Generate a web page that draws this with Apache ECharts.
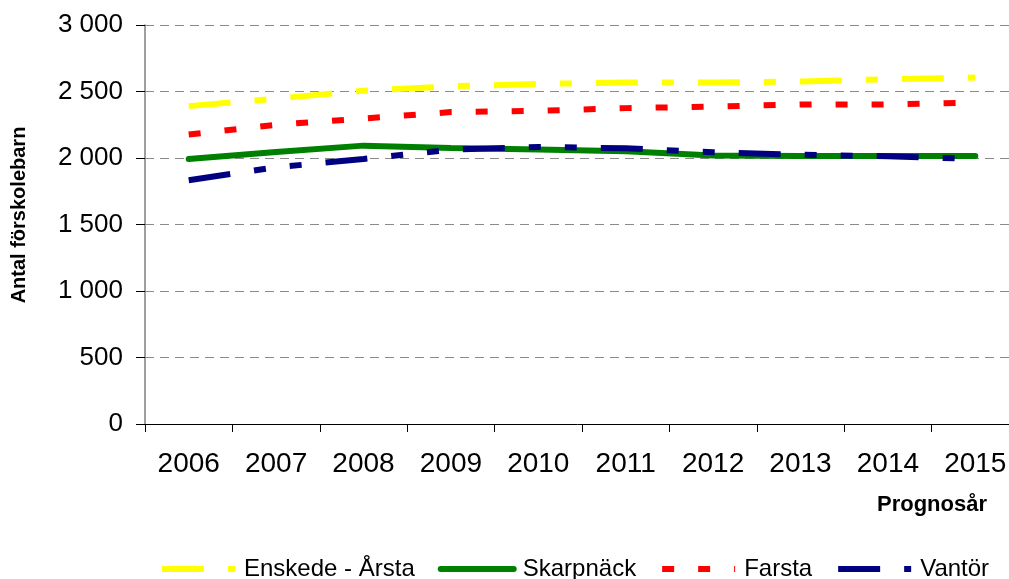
<!DOCTYPE html>
<html>

<head>
    <meta charset="utf-8">
    <title>Prognos förskolebarn</title>
    <style>
        html, body {
            margin: 0;
            padding: 0;
            background: #fff;
        }

        #main {
            width: 1009px;
            height: 579px;
        }
    </style>
</head>

<body>
    <div id="main"></div>

    <script src="https://cdn.jsdelivr.net/npm/echarts@6/dist/echarts.min.js"></script>
    <script>
        // data
        var years = ['2006', '2007', '2008', '2009', '2010', '2011', '2012', '2013', '2014', '2015'];
        var enskede = [2390, 2446, 2506, 2539, 2557, 2567, 2567, 2575, 2592, 2605];
        var skarpnack = [1992, 2045, 2093, 2076, 2063, 2050, 2018, 2015, 2015, 2015];
        var farsta = [2176, 2250, 2297, 2345, 2355, 2375, 2386, 2403, 2403, 2416];
        var vantor = [1833, 1930, 1993, 2063, 2083, 2073, 2043, 2025, 2013, 1993];
        var yTicks = [0, 500, 1000, 1500, 2000, 2500, 3000];

        var font = '"Liberation Sans", Arial, sans-serif';

        function fmt(v) {
            // swedish thousands separator
            return String(v).replace(/\B(?=(\d{3})+(?!\d))/g, ' ');
        }

        var chartDom = document.getElementById('main');
        var myChart = echarts.init(chartDom);
        var option;

        option = {
            animation: false,
            textStyle: { fontFamily: font },
            grid: {
                left: 145,
                top: 25,
                width: 874,
                bottom: 155,
                containLabel: false,
                outerBoundsMode: 'none'
            },
            legend: {
                top: 557,
                left: 159,
                padding: 0,
                itemWidth: 73,
                itemHeight: 22,
                itemGap: 23,
                itemStyle: { opacity: 0 },
                lineStyle: { width: 6 },
                textStyle: { fontSize: 24, color: '#000', fontFamily: font, padding: [2, 0, 0, 4] },
                data: ['Enskede - Årsta', 'Skarpnäck', 'Farsta', 'Vantör']
            },
            graphic: [
                {
                    type: 'text',
                    right: 22,
                    top: 494,
                    style: {
                        text: 'Prognosår',
                        font: 'bold 22px ' + font,
                        fill: '#000'
                    }
                },
                {
                    type: 'text',
                    x: 19,
                    y: 215,
                    rotation: Math.PI / 2,
                    style: {
                        text: 'Antal förskolebarn',
                        font: 'bold 20px ' + font,
                        fill: '#000',
                        align: 'center',
                        verticalAlign: 'middle'
                    }
                }
            ],
            xAxis: {
                type: 'category',
                data: years,
                boundaryGap: true,
                axisLine: { lineStyle: { color: '#000', width: 1 } },
                axisTick: { show: true, length: 8, lineStyle: { color: '#000' } },
                axisLabel: { fontSize: 28, color: '#000', margin: 26 }
            },
            yAxis: {
                type: 'value',
                min: yTicks[0],
                max: yTicks[yTicks.length - 1],
                interval: 500,
                axisLine: { show: true, lineStyle: { color: '#7f7f7f', width: 1.5 } },
                axisTick: { show: true, inside: false, length: 9, lineStyle: { color: '#000' } },
                axisLabel: {
                    fontSize: 26,
                    color: '#000',
                    margin: 22,
                    formatter: fmt
                },
                splitLine: {
                    show: true,
                    lineStyle: { color: '#8a8a8a', type: [9, 6], width: 1.2 }
                }
            },
            series: [
                {
                    name: 'Enskede - Årsta',
                    type: 'line',
                    data: enskede,
                    symbol: 'none',
                    color: '#ffff00',
                    lineStyle: { color: '#ffff00', width: 6, type: [42, 24, 12, 24], cap: 'butt' }
                },
                {
                    name: 'Skarpnäck',
                    type: 'line',
                    data: skarpnack,
                    symbol: 'none',
                    color: '#008000',
                    lineStyle: { color: '#008000', width: 6, type: 'solid', cap: 'round' }
                },
                {
                    name: 'Farsta',
                    type: 'line',
                    data: farsta,
                    symbol: 'none',
                    color: '#ff0000',
                    lineStyle: { color: '#ff0000', width: 6, type: [12, 24], cap: 'butt' }
                },
                {
                    name: 'Vantör',
                    type: 'line',
                    data: vantor,
                    symbol: 'none',
                    color: '#000080',
                    lineStyle: { color: '#000080', width: 6, type: [42, 24, 12, 24, 12, 24], cap: 'butt' }
                }
            ]
        };

        option && myChart.setOption(option);
    </script>
</body>

</html>
